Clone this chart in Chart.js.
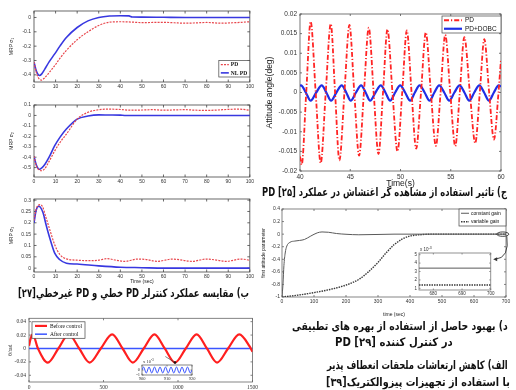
<!DOCTYPE html>
<html>
<head>
<meta charset="utf-8">
<script src="https://cdn.jsdelivr.net/npm/chart.js@4/dist/chart.umd.min.js"></script>
<style>
html, body { margin: 0; padding: 0; background: #fff; }
body { width: 516px; height: 390px; position: relative; overflow: hidden; }
canvas { position: absolute; }
.cap { position: absolute; font-family: "DejaVu Sans"; font-weight: bold; font-size: 11.5px; line-height: 14px;
       white-space: nowrap; direction: rtl; color: #111; }
</style>
</head>
<body>
<canvas id="sigma1" width="256" height="88" style="left:0;top:5px"></canvas>
<canvas id="sigma2" width="256" height="88" style="left:0;top:99px"></canvas>
<canvas id="sigma3" width="256" height="94" style="left:0;top:193px"></canvas>
<canvas id="attitude" width="256" height="184" style="left:260px;top:6px"></canvas>
<canvas id="gain" width="256" height="118" style="left:260px;top:203px"></canvas>
<canvas id="gainZoom" width="93" height="54" style="left:403px;top:244px"></canvas>
<canvas id="vib" width="260" height="78" style="left:0;top:312px"></canvas>
<canvas id="vibZoom" width="70" height="30" style="left:128px;top:356px"></canvas>
<script>
// ---- MRP sigma1 ----
const sigma1NLTime = [0, 1, 2, 2.6, 3.5, 5, 7, 9.6, 12, 15, 20, 25, 30, 35, 40, 44, 45.5, 50, 60, 70, 80, 90, 100];
const sigma1NL = [-0.31, -0.37, -0.4, -0.405, -0.395, -0.36, -0.31, -0.254, -0.2, -0.14, -0.07, -0.024, 0, 0.01, 0.012, 0.011, 0.003, 0.002, 0.001, 0, 0, 0, 0];
const sigma1PDTime = [0, 1, 2, 3.4, 5, 7, 9.6, 12, 15, 20, 25, 30, 35, 40, 45, 50, 55, 60, 65, 70, 75, 80, 87, 92, 96, 100];
const sigma1PD = [-0.31, -0.38, -0.42, -0.437, -0.42, -0.385, -0.336, -0.285, -0.23, -0.155, -0.1, -0.056, -0.033, -0.03, -0.032, -0.036, -0.035, -0.034, -0.037, -0.04, -0.038, -0.035, -0.04, -0.037, -0.034, -0.03];
// ---- MRP sigma2 ----
const sigma2NLTime = [0, 1, 2, 2.6, 3.5, 5, 7, 9.6, 12, 15, 20, 25, 30, 35, 40, 42, 50, 60, 80, 100];
const sigma2NL = [-0.39, -0.47, -0.51, -0.516, -0.505, -0.47, -0.4, -0.29, -0.21, -0.13, -0.035, -0.006, 0.005, 0.004, 0.003, 0, 0, 0, 0, 0];
const sigma2PDTime = [0, 1, 2, 3.4, 5, 7, 9.6, 12, 15, 20, 25, 30, 35, 40, 45, 50, 55, 60, 65, 70, 75, 80, 85, 90, 95, 100];
const sigma2PD = [-0.39, -0.48, -0.515, -0.53, -0.51, -0.44, -0.34, -0.26, -0.18, -0.035, 0.03, 0.055, 0.06, 0.057, 0.05, 0.052, 0.055, 0.05, 0.053, 0.055, 0.05, 0.048, 0.052, 0.058, 0.06, 0.05];
// ---- MRP sigma3 ----
const sigma3NLTime = [0, 1, 2.2, 3, 4.2, 5.5, 7.3, 9.6, 12, 15, 20, 30, 40, 50, 60, 100];
const sigma3NL = [0.2, 0.255, 0.273, 0.268, 0.244, 0.195, 0.133, 0.066, 0.037, 0.022, 0.018, 0.01, 0.004, 0.002, 0, 0];
const sigma3PDTime = [0, 1, 2.8, 4, 5.5, 7.3, 9.6, 12, 15, 20, 25, 30, 34, 38, 42, 48, 52, 57, 64, 69, 73, 80, 85, 89, 96, 100];
const sigma3PD = [0.21, 0.26, 0.28, 0.27, 0.225, 0.17, 0.103, 0.06, 0.041, 0.035, 0.033, 0.035, 0.042, 0.035, 0.03, 0.04, 0.038, 0.03, 0.04, 0.035, 0.03, 0.04, 0.035, 0.03, 0.04, 0.035];
const mrpTimeTicks = [0, 10, 20, 30, 40, 50, 60, 70, 80, 90, 100];
const sigma1Ticks = [-0.4, -0.3, -0.2, -0.1, 0];
const sigma2Ticks = [-0.5, -0.4, -0.3, -0.2, -0.1, 0, 0.1];
const sigma3Ticks = [0, 0.05, 0.1, 0.15, 0.2, 0.25, 0.3];

// ---- attitude angle, PD vs PD+DOBC ----
const pdTime = [40, 40.17, 40.62, 41.06, 41.56, 42.06, 42.56, 43.06, 43.49, 43.92, 44.42, 44.92, 45.4, 45.88, 46.36, 46.84, 47.33, 47.81, 48.26, 48.7,
  49.2, 49.7, 50.17, 50.63, 51.1, 51.56, 52.04, 52.52, 53.02, 53.52, 53.99, 54.45, 54.95, 55.45, 55.9, 56.35, 56.9, 57.44, 57.89, 58.34, 58.82, 59.3, 59.75, 60];
const pdAngle = [-0.0163, -0.0184, 0, 0.0181, 0, -0.018, 0, 0.0175, 0, -0.0173, 0, 0.0172, 0, -0.0161, 0, 0.0165, 0, -0.0157, 0, 0.0161,
  0, -0.015, 0, 0.0158, 0, -0.0143, 0, 0.0153, 0, -0.0136, 0, 0.0147, 0, -0.0137, 0, 0.0141, 0, -0.0129, 0, 0.0136, 0, -0.012, 0, 0.0085];
const dobcTime = [40, 40.1, 40.58, 41.06, 41.61, 42.16, 42.62, 43.09, 43.62, 44.15, 44.6, 45.05, 45.57, 46.08, 46.53, 46.98, 47.51, 48.04, 48.5, 48.97,
  49.47, 49.97, 50.46, 50.96, 51.43, 51.9, 52.4, 52.89, 53.37, 53.85, 54.35, 54.85, 55.36, 55.88, 56.36, 56.84, 57.34, 57.84, 58.32, 58.8, 59.29, 59.77, 60];
const dobcAngle = [0.0017, 0.0018, 0, -0.0021, 0, 0.0018, 0, -0.0021, 0, 0.0018, 0, -0.0021, 0, 0.0018, 0, -0.0021, 0, 0.0018, 0, -0.0021,
  0, 0.0018, 0, -0.0021, 0, 0.0018, 0, -0.0021, 0, 0.0018, 0, -0.0021, 0, 0.0018, 0, -0.0021, 0, 0.0018, 0, -0.0021, 0, 0.0018, 0.0015];
const attTimeTicks = [40, 45, 50, 55, 60];
const attAngleTicks = [-0.02, -0.015, -0.01, -0.005, 0, 0.005, 0.01, 0.015, 0.02];

// ---- first attitude parameter, constant vs variable gain ----
const constTime = [0, 3, 6, 10, 15, 25, 40, 55, 70, 90, 110, 125, 145, 170, 200, 240, 300, 350, 700];
const constGain = [-1, -0.8, -0.5, -0.3, -0.19, -0.13, -0.11, -0.1, -0.085, -0.03, 0.02, 0.035, 0.03, 0.01, -0.002, -0.01, -0.005, 0, 0];
const varTime = [0, 50, 100, 150, 200, 240, 270, 300, 325, 350, 375, 400, 430, 470, 520, 700];
const varGain = [-1, -0.97, -0.93, -0.88, -0.81, -0.72, -0.6, -0.45, -0.3, -0.17, -0.08, -0.03, -0.01, 0, 0, 0];
const gainTimeTicks = [0, 100, 200, 300, 400, 500, 600, 700];
const gainTicks = [-1, -0.8, -0.6, -0.4, -0.2, 0, 0.2, 0.4];
// zoomed tail, units of 1e-3
const tailTime = [675, 700];
const constTail = [3.4, 3.4];
const varTail = [1.4, 1.4];
const tailTimeTicks = [680, 690, 700];
const tailTicks = [1, 2, 3, 4, 5];

// ---- appendage vibration before / after control ----
const beforeTime = [0, 10, 25, 60, 126, 197, 267, 337, 407, 482, 558, 628, 697, 770, 842, 911, 980, 1052, 1125, 1194, 1262, 1336, 1411, 1481, 1500];
const beforeCtrl = [0.004, 0.014, 0.021, 0, -0.021, 0, 0.021, 0, -0.021, 0, 0.021, 0, -0.021, 0, 0.021, 0, -0.021, 0, 0.021, 0, -0.021, 0, 0.021, 0.003, -0.005];
const afterTime = [0, 1500];
const afterCtrl = [0, 0];
const vibTimeTicks = [0, 500, 1000, 1500];
const vibTicks = [-0.04, -0.02, 0, 0.02, 0.04];
// zoomed residual, units of 1e-3
const residTime = [900, 900.6, 901.7, 902.8, 903.9, 905, 906.1, 907.2, 908.3, 909.4, 910.5, 911.6, 912.7, 913.8, 914.9, 916, 917.1, 918.2, 919.3, 920];
const residual = [0, 0.6, -0.6, 0.6, -0.6, 0.6, -0.6, 0.6, -0.6, 0.6, -0.6, 0.6, -0.6, 0.6, -0.6, 0.6, -0.6, 0.6, -0.6, 0];
const residTimeTicks = [900, 910, 920];
const residTicks = [-1, 0];

Chart.defaults.font.family = 'Liberation Sans';
Chart.defaults.color = '#333';

const fmt = v => String(+(+v).toFixed(4));

// box around the plot area with inward tick marks on all four sides
const matlabBox = {
  id: 'matlabBox',
  beforeDatasetsDraw(chart, args, o) {
    const { ctx, chartArea: a, scales: { x, y } } = chart;
    const len = o.tick || 2.5;
    ctx.save();
    if (o.fill) { ctx.fillStyle = o.fill; ctx.fillRect(a.left, a.top, a.right - a.left, a.bottom - a.top); }
    ctx.strokeStyle = o.color || '#444';
    ctx.lineWidth = o.width || 0.8;
    ctx.strokeRect(a.left, a.top, a.right - a.left, a.bottom - a.top);
    ctx.beginPath();
    x.ticks.forEach(t => {
      const p = x.getPixelForValue(t.value);
      ctx.moveTo(p, a.bottom); ctx.lineTo(p, a.bottom - len);
      ctx.moveTo(p, a.top); ctx.lineTo(p, a.top + len);
    });
    y.ticks.forEach(t => {
      const p = y.getPixelForValue(t.value);
      ctx.moveTo(a.left, p); ctx.lineTo(a.left + len, p);
      ctx.moveTo(a.right, p); ctx.lineTo(a.right - len, p);
    });
    ctx.stroke();
    ctx.restore();
  }
};

// legend drawn inside the plot area, framed like MATLAB's
const insetLegend = {
  id: 'insetLegend',
  afterDatasetsDraw(chart, args, o) {
    if (!o.w) return;
    const { ctx, chartArea: a } = chart;
    const left = o.corner.includes('right') ? a.right - o.dx - o.w : a.left + o.dx;
    const top = o.corner.includes('bottom') ? a.bottom - o.dy - o.h : a.top + o.dy;
    ctx.save();
    ctx.fillStyle = '#fff';
    ctx.fillRect(left, top, o.w, o.h);
    ctx.strokeStyle = '#444';
    ctx.lineWidth = 0.7;
    ctx.strokeRect(left, top, o.w, o.h);
    const rowH = o.h / chart.data.datasets.length;
    ctx.font = o.font;
    ctx.textBaseline = 'middle';
    ctx.textAlign = 'left';
    chart.data.datasets.forEach((ds, i) => {
      const cy = top + rowH * (i + 0.5);
      ctx.strokeStyle = ds.borderColor;
      ctx.lineWidth = ds.borderWidth;
      ctx.setLineDash(ds.borderDash || []);
      ctx.beginPath();
      ctx.moveTo(left + o.s0, cy); ctx.lineTo(left + o.s1, cy);
      ctx.stroke();
      ctx.setLineDash([]);
      ctx.fillStyle = '#111';
      ctx.fillText(ds.label, left + o.tx, cy + 0.3);
    });
    ctx.restore();
  }
};

// "x 10^-3" multiplier above the y axis
const expLabel = {
  id: 'expLabel',
  afterDraw(chart, args, o) {
    if (!o.font) return;
    const { ctx, chartArea: a } = chart;
    ctx.save();
    ctx.fillStyle = '#333';
    ctx.font = o.font;
    ctx.textBaseline = 'bottom';
    ctx.fillText('x 10', a.left + 1, a.top - 1);
    const w = ctx.measureText('x 10').width;
    ctx.font = o.supFont;
    ctx.fillText('-3', a.left + 1 + w, a.top - 3);
    ctx.restore();
  }
};

function axis(o) {
  return {
    type: 'linear', min: o.min, max: o.max,
    afterBuildTicks: s => { s.ticks = o.ticks.map(v => ({ value: v })); },
    afterFit: s => { if (s.isHorizontal()) s.height = o.size; else s.width = o.size; },
    grid: { display: false, drawTicks: false },
    border: { display: false },
    ticks: { font: o.font, color: '#333', padding: o.pad, maxRotation: 0, autoSkip: false, callback: v => fmt(v) },
    title: o.title ? { display: true, text: o.title, font: o.titleFont || o.font, color: '#222', padding: o.titlePad } : { display: false }
  };
}

function series(label, xs, ys, style) {
  return Object.assign({
    label, data: xs.map((x, i) => ({ x, y: ys[i] })),
    pointRadius: 0, fill: false, cubicInterpolationMode: 'monotone'
  }, style);
}

function plot(id, datasets, x, y, opts) {
  return new Chart(document.getElementById(id), {
    type: 'line',
    data: { datasets },
    options: {
      responsive: false, animation: false, events: [],
      layout: { padding: opts.padding },
      scales: { x: axis(x), y: axis(y) },
      plugins: {
        legend: { display: false }, tooltip: { enabled: false },
        matlabBox: opts.box || {},
        insetLegend: opts.legend || {},
        expLabel: opts.exp || {}
      }
    },
    plugins: [matlabBox, insetLegend, expLabel].concat(opts.plugins || [])
  });
}

const mrpFont = { size: 5, family: 'Liberation Sans' };
const pdStyle = { borderColor: '#e8464c', borderWidth: 1.2, borderDash: [2, 1.2] };
const nlStyle = { borderColor: '#3838e0', borderWidth: 1.6 };

plot('sigma1', [series('PD', sigma1PDTime, sigma1PD, pdStyle), series('NL PD', sigma1NLTime, sigma1NL, nlStyle)],
  { min: 0, max: 100, ticks: mrpTimeTicks, size: 11, font: mrpFont, pad: 2 },
  { min: -0.45, max: 0.045, ticks: sigma1Ticks, size: 34, font: mrpFont, pad: 3, title: 'MRP σ₁', titlePad: { top: 9 } },
  { padding: { top: 6, right: 6 },
    legend: { corner: 'bottom-right', dx: 0, dy: 5, w: 31, h: 16.5, s0: 2, s1: 10, tx: 12, font: 'bold 5.5px "Liberation Serif"' } });

plot('sigma2', [series('PD', sigma2PDTime, sigma2PD, pdStyle), series('NL PD', sigma2NLTime, sigma2NL, nlStyle)],
  { min: 0, max: 100, ticks: mrpTimeTicks, size: 10, font: mrpFont, pad: 2 },
  { min: -0.59, max: 0.1, ticks: sigma2Ticks, size: 34, font: mrpFont, pad: 3, title: 'MRP σ₂', titlePad: { top: 9 } },
  { padding: { top: 6, right: 6 } });

plot('sigma3', [series('PD', sigma3PDTime, sigma3PD, pdStyle), series('NL PD', sigma3NLTime, sigma3NL, nlStyle)],
  { min: 0, max: 100, ticks: mrpTimeTicks, size: 15, font: mrpFont, pad: 2, title: 'Time (sec)', titlePad: { bottom: 2 } },
  { min: -0.017, max: 0.305, ticks: sigma3Ticks, size: 34, font: mrpFont, pad: 3, title: 'MRP σ₃', titlePad: { top: 9 } },
  { padding: { top: 6, right: 6 } });

const attFont = { size: 6.5, family: 'Liberation Sans' };
plot('attitude', [
    series('PD', pdTime, pdAngle, { borderColor: '#ff2424', borderWidth: 1.8, borderDash: [5, 2, 1.2, 2] }),
    series('PD+DOBC', dobcTime, dobcAngle, { borderColor: '#1f2ee6', borderWidth: 2.2 })],
  { min: 40, max: 60, ticks: attTimeTicks, size: 19, font: attFont, pad: 2, title: 'Time(s)', titleFont: { size: 8.5, family: 'Liberation Sans' }, titlePad: { bottom: 1 } },
  { min: -0.02, max: 0.02, ticks: attAngleTicks, size: 40, font: attFont, pad: 3, title: 'Attitude angle(deg)', titleFont: { size: 8.5, family: 'Liberation Sans' }, titlePad: { top: 5 } },
  { padding: { top: 8, right: 15 }, box: { color: '#555', tick: 2 },
    legend: { corner: 'top-right', dx: 0, dy: 2, w: 59, h: 17, s0: 2, s1: 20, tx: 23, font: '6.5px "Liberation Sans"' } });

const gainFont = { size: 5, family: 'Liberation Sans' };
// curved arrow from the settled tail to the zoomed box
const tailArrow = {
  id: 'tailArrow',
  afterDatasetsDraw(chart) {
    const { ctx, scales: { x, y } } = chart;
    const cx = x.getPixelForValue(690), cy = y.getPixelForValue(0);
    ctx.save();
    ctx.strokeStyle = '#333';
    ctx.lineWidth = 0.9;
    ctx.beginPath();
    ctx.ellipse(cx, cy, 6, 2.2, 0, 0, Math.PI * 2);
    ctx.stroke();
    const ex = x.getPixelForValue(660), ey = y.getPixelForValue(-0.4);
    ctx.beginPath();
    ctx.moveTo(cx + 4, cy + 2);
    ctx.quadraticCurveTo(x.getPixelForValue(712), y.getPixelForValue(-0.38), ex + 2, ey);
    ctx.stroke();
    ctx.beginPath();
    ctx.moveTo(ex, ey); ctx.lineTo(ex + 4, ey - 2); ctx.lineTo(ex + 4, ey + 2); ctx.closePath();
    ctx.fillStyle = '#333';
    ctx.fill();
    ctx.restore();
  }
};
const constStyle = { borderColor: '#5a5a5a', borderWidth: 1 };
const varStyle = { borderColor: '#3a3a3a', borderWidth: 1.4, borderDash: [1.5, 1] };
plot('gain', [series('constant gain', constTime, constGain, constStyle), series('variable gain', varTime, varGain, varStyle)],
  { min: 0, max: 700, ticks: gainTimeTicks, size: 24, font: gainFont, pad: 2, title: 'time (sec)', titlePad: { bottom: 3 } },
  { min: -1, max: 0.4, ticks: gainTicks, size: 22, font: gainFont, pad: 2, title: 'first attitude parameter', titlePad: { top: 1 } },
  { padding: { top: 6, right: 10 }, box: { color: '#666', tick: 2 }, plugins: [tailArrow],
    legend: { corner: 'top-right', dx: 0, dy: 0, w: 47, h: 17, s0: 2, s1: 10, tx: 12, font: '5px "Liberation Sans"' } });

plot('gainZoom', [series('constant gain', tailTime, constTail, constStyle), series('variable gain', tailTime, varTail, varStyle)],
  { min: 675, max: 700, ticks: tailTimeTicks, size: 8, font: { size: 4.5 }, pad: 1.5 },
  { min: 0.8, max: 5.2, ticks: tailTicks, size: 16, font: { size: 4.5 }, pad: 2 },
  { padding: { top: 9, right: 4 }, box: { color: '#777', tick: 1.5, fill: '#fff' },
    exp: { font: '4.5px "Liberation Sans"', supFont: '3.5px "Liberation Sans"' } });

// pointer from the zoom label down to the marked trough
const zoomPointer = {
  id: 'zoomPointer',
  afterDatasetsDraw(chart) {
    const { ctx, scales: { x, y } } = chart;
    const x0 = x.getPixelForValue(915), y0 = y.getPixelForValue(-0.012);
    const x1 = x.getPixelForValue(980), y1 = y.getPixelForValue(-0.021);
    ctx.save();
    ctx.strokeStyle = '#333';
    ctx.lineWidth = 0.6;
    ctx.beginPath();
    ctx.moveTo(x0, y0); ctx.lineTo(x1, y1);
    ctx.stroke();
    ctx.fillStyle = '#111';
    ctx.beginPath();
    ctx.arc(x1, y1, 1.3, 0, Math.PI * 2);
    ctx.fill();
    ctx.restore();
  }
};

const vibFont = { size: 5.5, family: 'Liberation Serif' };
plot('vib', [
    series('Before control', beforeTime, beforeCtrl, { borderColor: '#ff1f1f', borderWidth: 2.2 }),
    series('After control', afterTime, afterCtrl, { borderColor: '#3a55ff', borderWidth: 1.5 })],
  { min: 0, max: 1500, ticks: vibTimeTicks, size: 8, font: vibFont, pad: 2 },
  { min: -0.05, max: 0.045, ticks: vibTicks, size: 29, font: vibFont, pad: 3, title: 'θ/rad', titleFont: { size: 5.5, family: 'Liberation Serif' }, titlePad: { top: 7 } },
  { padding: { top: 6, right: 7 }, box: { color: '#666', tick: 2 }, plugins: [zoomPointer],
    legend: { corner: 'top-left', dx: 3, dy: 3.5, w: 53, h: 16.5, s0: 3, s1: 15, tx: 18, font: '5.5px "Liberation Serif"' } });

plot('vibZoom', [series('After control', residTime, residual, { borderColor: '#3a55ff', borderWidth: 1 })],
  { min: 900, max: 920, ticks: residTimeTicks, size: 11, font: { size: 4.5, family: 'Liberation Serif' }, pad: 1.5 },
  { min: -1, max: 1, ticks: residTicks, size: 14, font: { size: 4.5, family: 'Liberation Serif' }, pad: 2 },
  { padding: { top: 9, right: 6 }, box: { color: '#666', tick: 1.5, fill: '#fff' },
    exp: { font: '4.5px "Liberation Serif"', supFont: '3.5px "Liberation Serif"' } });

// Persian captions, stretched to their column widths
const captions = [
  ['ب) مقایسه عملکرد کنترلر PD خطي و PD غيرخطي[۲۷]', 18, 249, 293],
  ['ج) تاثیر استفاده از مشاهده گر اغتشاش در عملکرد PD [۲۵]', 262, 507, 192],
  ['د) بهبود حاصل از استفاده از بهره های تطبیقی', 292, 508, 326],
  ['در کنترل کننده PD [۲۹]', 335, 453, 342],
  ['الف) کاهش ارتعاشات ملحقات انعطاف پذیر', 327, 508, 365],
  ['با استفاده از تجهیزات پیزوالکتریک[۳۹]', 326, 510, 382]
];
captions.forEach(([text, left, right, cy]) => {
  const d = document.createElement('div');
  d.className = 'cap';
  d.textContent = text;
  document.body.appendChild(d);
  const w = d.offsetWidth, h = d.offsetHeight;
  d.style.left = left + 'px';
  d.style.top = (cy - h / 2) + 'px';
  d.style.transformOrigin = '0 50%';
  d.style.transform = 'scaleX(' + ((right - left) / w) + ')';
});
</script>
</body>
</html>
